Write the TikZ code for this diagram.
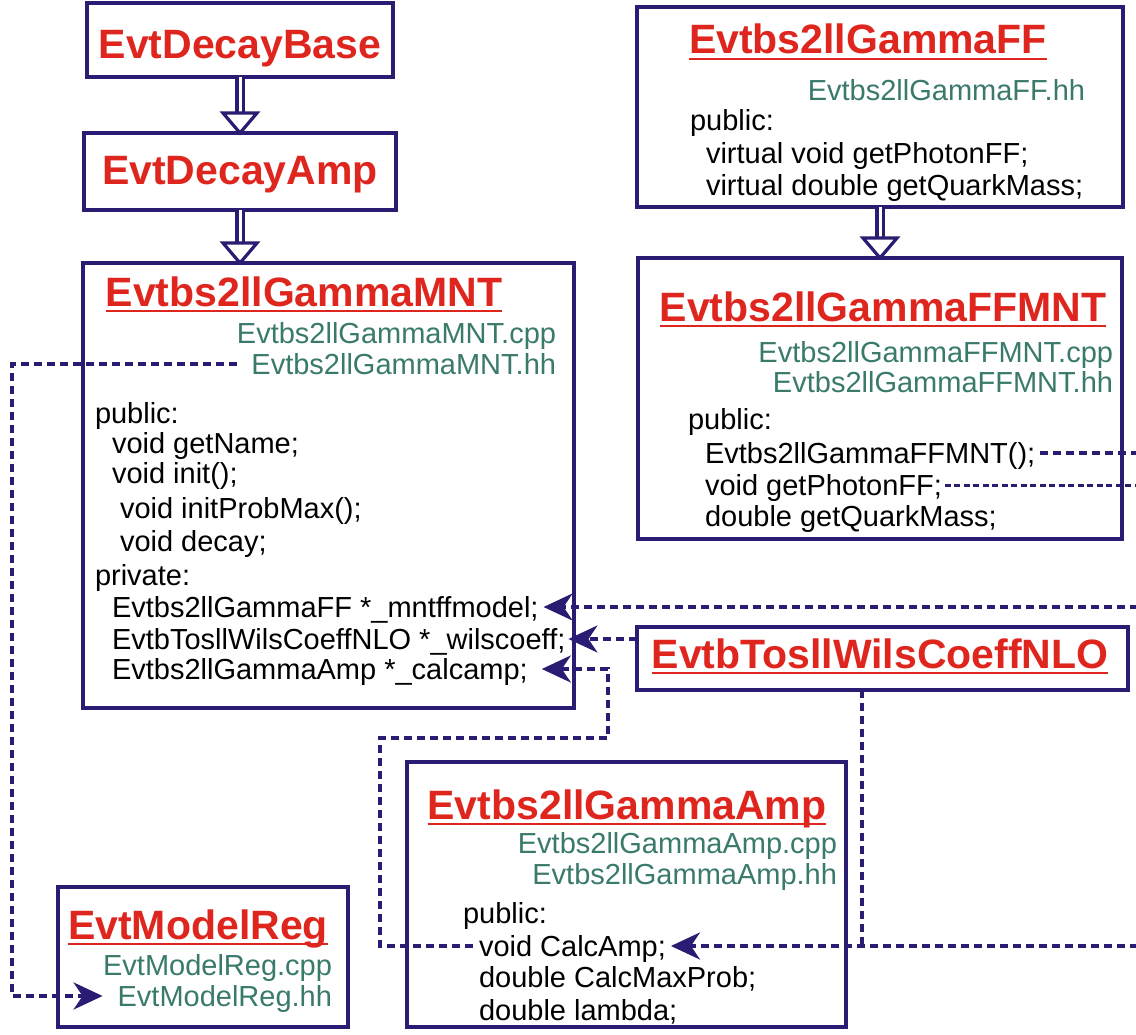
\documentclass[tikz,border=0pt]{standalone}
\usepackage{fontspec}
\setmainfont{Liberation Sans}
\usetikzlibrary{arrows.meta,calc}
\definecolor{navy}{RGB}{42,28,115}
\definecolor{ttlred}{RGB}{222,38,30}
\definecolor{filegreen}{RGB}{58,122,108}

% hollow inheritance arrow: double shaft and open triangular head
\newcommand\inheritarrow[2]{%
  \draw[navy, line width=3.2pt, double=white, double distance=3pt] (#1) -- ($(#2)+(0,-20)$);
  \draw[navy, line width=3.2pt, fill=white, line join=miter]
    ($(#2)+(-17,-20)$) -- ($(#2)+(17,-20)$) -- (#2) -- cycle;}

\begin{document}
\begin{tikzpicture}[x=1pt, y=-1pt,
  box/.style={draw=navy, line width=4pt, fill=white, rectangle, inner sep=0pt, outer sep=0pt, anchor=north west},
  ttl/.style={font=\fontsize{41}{41}\selectfont\bfseries, text=ttlred, inner sep=0pt, outer sep=0pt, text height=30pt, text depth=0pt},
  uline/.style={draw=ttlred, line width=2.4pt},
  fname/.style={font=\fontsize{29}{31}\selectfont, text=filegreen, inner sep=0pt, outer sep=0pt, text height=21pt, text depth=0pt, anchor=east},
  code/.style={font=\fontsize{29}{31}\selectfont, text=black, inner sep=0pt, outer sep=0pt, text height=21pt, text depth=0pt, anchor=west},
  dep/.style={draw=navy, line width=3.7pt, dash pattern=on 8pt off 5pt},
  ptr/.style={dep, -{Stealth[length=29pt, width=27pt, inset=9pt]}}
]
\useasboundingbox (0,0) rectangle (1136,1035);
\fill[white] (0,0) rectangle (1136,1035);

% ---------------- boxes ----------------
\node[box, minimum width=306pt, minimum height=74pt]  (base)  at (87,3)    {};
\node[box, minimum width=312pt, minimum height=77pt]  (damp)  at (84,133)  {};
\node[box, minimum width=491pt, minimum height=445pt] (mnt)   at (83,263)  {};
\node[box, minimum width=486pt, minimum height=200pt] (ff)    at (637,7)   {};
\node[box, minimum width=484pt, minimum height=281pt] (ffmnt) at (638,258) {};
\node[box, minimum width=491pt, minimum height=63pt]  (wils)  at (637,627) {};
\node[box, minimum width=439pt, minimum height=265pt] (amp)   at (407,762) {};
\node[box, minimum width=290pt, minimum height=140pt] (mreg)  at (58,887)  {};

% ---------------- EvtDecayBase / EvtDecayAmp ----------------
\node[ttl] (baseT) at (240,44)  {EvtDecayBase};
\node[ttl] (dampT) at (240,170) {EvtDecayAmp};

% ---------------- Evtbs2llGammaMNT ----------------
\node[ttl] (mntT) at (304,291) {Evtbs2llGammaMNT};
\draw[uline] ([yshift=-5pt]mntT.south west) -- ([yshift=-5pt]mntT.south east);
\node[fname] (mntcpp) at (556,333) {Evtbs2llGammaMNT.cpp};
\node[fname] (mnthh)  at (556,364) {Evtbs2llGammaMNT.hh};
\node[code] (mntpub)  at (95,413)  {public:};
\node[code] (mntname) at (112,443) {void getName;};
\node[code] (mntinit) at (112,473) {void init();};
\node[code] (mntprob) at (120,508) {void initProbMax();};
\node[code] (mntdec)  at (120,541) {void decay;};
\node[code] (mntpriv) at (95,575)  {private:};
\node[code] (mntff)   at (112,607) {Evtbs2llGammaFF *\_mntffmodel;};
\node[code] (mntwc)   at (112,639) {EvtbTosllWilsCoeffNLO *\_wilscoeff;};
\node[code] (mntamp)  at (112,669) {Evtbs2llGammaAmp *\_calcamp;};

% ---------------- Evtbs2llGammaFF ----------------
\node[ttl] (ffT) at (868,39) {Evtbs2llGammaFF};
\draw[uline] ([yshift=-5pt]ffT.south west) -- ([yshift=-5pt]ffT.south east);
\node[fname] (ffhh) at (1085,90) {Evtbs2llGammaFF.hh};
\node[code] (ffpub) at (690,120) {public:};
\node[code] (ffph)  at (706,153) {virtual void getPhotonFF;};
\node[code] (ffqm)  at (706,185) {virtual double getQuarkMass;};

% ---------------- Evtbs2llGammaFFMNT ----------------
\node[ttl] (ffmT) at (883,306) {Evtbs2llGammaFFMNT};
\draw[uline] ([yshift=-5pt]ffmT.south west) -- ([yshift=-5pt]ffmT.south east);
\node[fname] (ffmcpp) at (1113,352) {Evtbs2llGammaFFMNT.cpp};
\node[fname] (ffmhh)  at (1113,382) {Evtbs2llGammaFFMNT.hh};
\node[code] (ffmpub)  at (688,419) {public:};
\node[code] (ffmctor) at (705,453) {Evtbs2llGammaFFMNT();};
\node[code] (ffmph)   at (705,485) {void getPhotonFF;};
\node[code] (ffmqm)   at (705,516) {double getQuarkMass;};

% ---------------- EvtbTosllWilsCoeffNLO ----------------
\node[ttl] (wilsT) at (880,653) {EvtbTosllWilsCoeffNLO};
\draw[uline] ([yshift=-5pt]wilsT.south west) -- ([yshift=-5pt]wilsT.south east);

% ---------------- Evtbs2llGammaAmp ----------------
\node[ttl] (ampT) at (627,804) {Evtbs2llGammaAmp};
\draw[uline] ([yshift=-5pt]ampT.south west) -- ([yshift=-5pt]ampT.south east);
\node[fname] (ampcpp) at (837,843) {Evtbs2llGammaAmp.cpp};
\node[fname] (amphh)  at (837,874) {Evtbs2llGammaAmp.hh};
\node[code] (amppub)  at (463,913)  {public:};
\node[code] (ampcalc) at (479,946)  {void CalcAmp;};
\node[code] (ampmax)  at (479,977)  {double CalcMaxProb;};
\node[code] (amplam)  at (479,1010) {double lambda;};

% ---------------- EvtModelReg ----------------
\node[ttl] (mregT) at (198,924) {EvtModelReg};
\draw[uline] ([yshift=-5pt]mregT.south west) -- ([yshift=-5pt]mregT.south east);
\node[fname] (mregcpp) at (332,965) {EvtModelReg.cpp};
\node[fname] (mreghh)  at (332,996) {EvtModelReg.hh};

% ---------------- inheritance ----------------
\coordinate (mntin) at (damp.south |- mnt.north);
\inheritarrow{base.south}{damp.north}
\inheritarrow{damp.south}{mntin}
\inheritarrow{ff.south}{ffmnt.north}

% ---------------- dependencies ----------------
\coordinate (redge) at (1138,0);
\coordinate (lcol)  at (12,0);
\coordinate (wdrop) at (862,0);

% MNT header registered in EvtModelReg
\draw[ptr] ([xshift=-14pt]mnthh.west) -- (lcol |- mnthh.west)
  -- (lcol |- mreghh.west) -- ([xshift=-15pt]mreghh.west);

% form-factor model pointer
\draw[ptr] (redge |- mntff.east) -- ([xshift=5pt]mntff.east);
% Wilson coefficient pointer
\draw[ptr] (wils.west |- mntwc.east) -- ([xshift=3pt]mntwc.east);
% amplitude pointer
\draw[ptr] ([xshift=-6pt]ampcalc.west) -- (380,0 |- ampcalc.west) -- (380,738)
  -- (608,738) -- (608,0 |- mntamp.east) -- ([xshift=14pt]mntamp.east);

% Wilson coefficients used in CalcAmp
\draw[dep] (wdrop |- wils.south) -- (wdrop |- ampcalc.east);
\draw[ptr] (redge |- ampcalc.east) -- ([xshift=5pt]ampcalc.east);

% FFMNT members leaving to the right
\draw[dep] ([xshift=5pt]ffmctor.east) -- (redge |- ffmctor.east);
\draw[dep, line width=3pt, dash pattern=on 6pt off 3.5pt] ([xshift=3pt]ffmph.east) -- (redge |- ffmph.east);
\end{tikzpicture}
\end{document}
